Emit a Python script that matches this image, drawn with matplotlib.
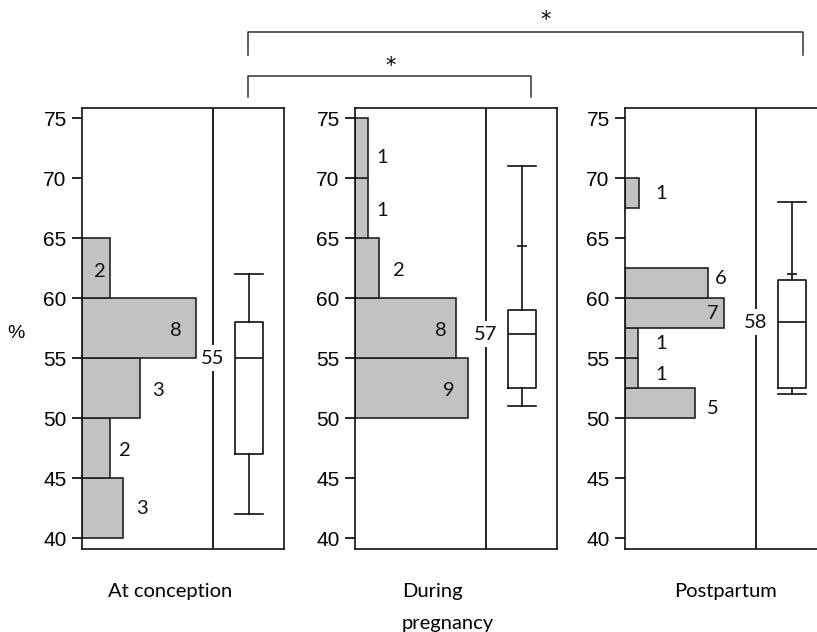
import matplotlib
matplotlib.use("Agg")
import matplotlib.pyplot as plt
from matplotlib.lines import Line2D

# ---------------- data ----------------
categories = ["At conception", "During\npregnancy", "Postpartum"]
yticks = [40, 45, 50, 55, 60, 65, 70, 75]

bin_lo = [[40, 45, 50, 55, 60],
          [50, 55, 60, 65, 70],
          [50, 52.5, 55, 57.5, 60, 67.5]]
bin_hi = [[45, 50, 55, 60, 65],
          [55, 60, 65, 70, 75],
          [52.5, 55, 57.5, 60, 62.5, 70]]
counts = [[3, 2, 3, 8, 2],
          [9, 8, 2, 1, 1],
          [5, 1, 1, 7, 6, 1]]
bar_len = [[3.3, 2.2, 4.6, 9.1, 2.2],
           [9.0, 8.1, 1.9, 1.0, 1.0],
           [5.6, 1.0, 1.0, 7.9, 6.6, 1.1]]

med = [55, 57, 58]
q1 = [47, 52.5, 52.5]
q3 = [58, 59, 61.5]
whislo = [42, 51, 52]
whishi = [62, 71, 68]
whisker_mark = [None, 64.3, 62]

# ---------------- layout ----------------
label_pos = [[(4.8, 42.5), (3.4, 47.3), (6.1, 52.3), (7.5, 57.3), (1.4, 62.2)],
             [(7.5, 52.3), (6.9, 57.3), (3.5, 62.3), (2.2, 67.3), (2.2, 71.7)],
             [(7.0, 50.8), (2.9, 53.6), (2.9, 56.2), (7.0, 58.7), (7.7, 61.6), (2.9, 68.7)]]
W, H = 817, 632
panel_left_px = [82, 355, 625]
panel_w_px = 202
top_px, bot_px = 108, 549
px_per_unit = 12.5
xmax = panel_w_px / px_per_unit
sep_x = 131 / px_per_unit
box_x = 167 / px_per_unit
box_w = 28 / px_per_unit
# (x, ha) for category labels, first baseline at y=597 px, line step 32 px
cat_place = [(170, 'center'), (402, 'left'), (726, 'center')]

num_font = "Lato"
tick_font = "Liberation Sans"

fig = plt.figure(figsize=(W / 100, H / 100), dpi=100)

for i in range(3):
    ax = fig.add_axes([panel_left_px[i] / W, (H - bot_px) / H,
                       panel_w_px / W, (bot_px - top_px) / H])
    ax.set_xlim(0, xmax)
    ax.set_ylim(40 - 11 / 12, 75 + 10 / 12)
    # histogram bars
    heights = [h - l for l, h in zip(bin_lo[i], bin_hi[i])]
    ax.barh(bin_lo[i], bar_len[i], height=heights, align='edge', left=0,
            color='#c2c2c2', edgecolor='#222222', linewidth=1.2, zorder=2)
    for (lx, ly), c in zip(label_pos[i], counts[i]):
        ax.text(lx, ly, str(c), ha='center', va='center', fontsize=14.5,
                family=num_font, color='#111111', zorder=4)
    # separator
    ax.axvline(sep_x, color='#111111', lw=1.3, zorder=1)
    ax.text(sep_x, med[i], str(med[i]), ha='center', va='center', fontsize=14.5,
            family=num_font, color='#111111', zorder=5,
            bbox=dict(facecolor='white', edgecolor='none', pad=3))
    # box plot
    stats = [dict(med=med[i], q1=q1[i], q3=q3[i], whislo=whislo[i],
                  whishi=whishi[i], fliers=[])]
    ax.bxp(stats, positions=[box_x], widths=box_w, capwidths=box_w,
           showfliers=False, manage_ticks=False,
           boxprops=dict(color='#111111', lw=1.2),
           whiskerprops=dict(color='#111111', lw=1.2),
           capprops=dict(color='#111111', lw=1.2),
           medianprops=dict(color='#111111', lw=1.2))
    if whisker_mark[i] is not None:
        ax.plot([box_x], [whisker_mark[i]], marker='_', markersize=7,
                mew=1.2, color='#111111')
    # axes styling
    for s in ax.spines.values():
        s.set_linewidth(1.2)
        s.set_color('#111111')
    ax.set_xticks([])
    ax.set_yticks(yticks)
    ax.tick_params(axis='y', length=7, width=1.2, pad=4, labelsize=15)
    for t in ax.get_yticklabels():
        t.set_family(tick_font)
    # category label
    cx, cha = cat_place[i]
    for k, line in enumerate(categories[i].split("\n")):
        fig.text(cx / W, 1 - (597 + 32 * k) / H, line, ha=cha,
                 va='baseline', fontsize=14.5, family=num_font)

fig.text(16 / W, 1 - 333 / H, "%", ha='center', va='center', fontsize=14,
         family=tick_font)

# significance brackets (figure pixel coordinates)
def bracket(x0, x1, ytop, ybot, xstar, ystar):
    fx = lambda x: x / W
    fy = lambda y: 1 - y / H
    fig.add_artist(Line2D([fx(x0), fx(x0), fx(x1), fx(x1)],
                          [fy(ybot), fy(ytop), fy(ytop), fy(ybot)],
                          color='#333333', lw=1.1))
    fig.text(fx(xstar), fy(ystar + 10), "*", ha='center',
             va='baseline', fontsize=15, family="DejaVu Sans")

bracket(248, 803, 32, 55, 546, 16)
bracket(248, 531, 76, 97, 391, 62)

fig.savefig("out.png", dpi=100)
